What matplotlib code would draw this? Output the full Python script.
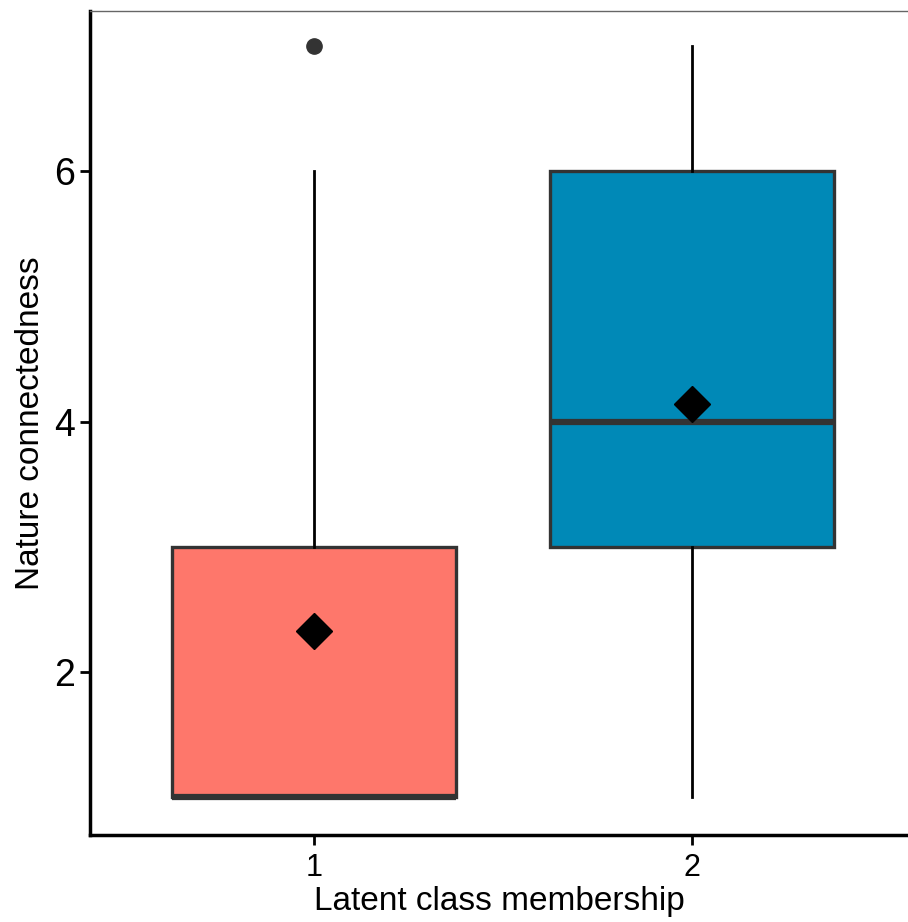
import numpy as np
import matplotlib.pyplot as plt

plt.rcParams['font.family'] = ['Liberation Sans', 'DejaVu Sans']

classes = ['1', '2']
q1 = [1, 3]
med = [1, 4]
q3 = [3, 6]
wlo = [1, 1]
whi = [6, 7]
means = [2.33, 4.14]
outliers = [[7], []]
colors = ['#FE776B', '#0089B7']

stats = []
for i in range(len(classes)):
    stats.append({'label': classes[i], 'q1': q1[i], 'med': med[i], 'q3': q3[i],
                  'whislo': wlo[i], 'whishi': whi[i], 'fliers': outliers[i],
                  'mean': means[i]})

fig = plt.figure(figsize=(9.08, 9.22), dpi=100)
ax = fig.add_axes([90/908, 87/922, 818/908, 824/922])

pos = np.arange(1, len(classes) + 1)
bp = ax.bxp(stats, positions=pos, widths=0.75, patch_artist=True,
            showmeans=True, showcaps=False,
            boxprops=dict(edgecolor='#333333', linewidth=2.4),
            medianprops=dict(color='#333333', linewidth=4.5, solid_capstyle='butt'),
            whiskerprops=dict(color='black', linewidth=2.0),
            flierprops=dict(marker='o', markerfacecolor='#333333', markeredgecolor='#333333', markersize=11),
            meanprops=dict(marker='D', markerfacecolor='black', markeredgecolor='black', markersize=18),
            zorder=3)
for patch, c in zip(bp['boxes'], colors):
    patch.set_facecolor(c)

ax.set_xlim(0.4074, 2.571)
ax.set_ylim(0.699, 7.28)
ax.set_yticks([2, 4, 6])
ax.set_xticks(pos)
ax.set_xticklabels(classes)

ax.tick_params(axis='y', labelsize=27, length=7, width=2, color='black', pad=4)
ax.tick_params(axis='x', labelsize=22, length=7, width=2, color='black', pad=6)

for s in ['left', 'bottom']:
    ax.spines[s].set_linewidth(2.5)
    ax.spines[s].set_color('black')
ax.spines['right'].set_visible(False)
ax.spines['top'].set_linewidth(1.0)
ax.spines['top'].set_color('#666666')

ax.set_xlabel('Latent class membership', fontsize=24, labelpad=2)
ax.set_ylabel('Nature connectedness', fontsize=24, labelpad=6)

fig.savefig('out.png', dpi=100)
